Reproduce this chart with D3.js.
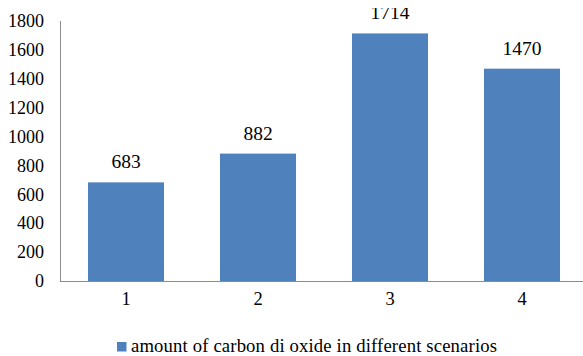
<!DOCTYPE html>
<html>
<head>
<meta charset="utf-8">
<script src="https://cdn.jsdelivr.net/npm/d3@7"></script>
<style>
  html, body { margin: 0; padding: 0; background: #fff; }
  svg { display: block; }
</style>
</head>
<body>
<svg id="chart" width="583" height="356"></svg>
<script>
// Scenario numbers and CO2 amounts
const categories = ["1", "2", "3", "4"];
const values = [683, 882, 1714, 1470];
const yTicks = [0, 200, 400, 600, 800, 1000, 1200, 1400, 1600, 1800];
const seriesName = "amount of carbon di oxide in different scenarios";

const width = 583, height = 356;
const margin = { left: 60, top: 21, bottom: 75 };
const plotRight = 588;
const baseline = height - margin.bottom; // 281
const serif = '"Liberation Serif"';

const svg = d3.select("#chart");
const barColor = "#4f81bd";

// Canvas edge: labels are trimmed along the top of the frame
svg.append("defs").append("clipPath").attr("id", "frame")
  .append("rect").attr("x", 0).attr("y", 8).attr("width", width).attr("height", height - 8);

const x = d3.scaleBand()
  .domain(categories)
  .range([margin.left, plotRight])
  .paddingInner(0.424)
  .paddingOuter(0.212);

const y = d3.scaleLinear()
  .domain([0, 1800])
  .range([baseline, margin.top]);

// Y axis labels (no tick marks)
const yAxis = d3.axisLeft(y).tickValues(yTicks).tickSize(0).tickPadding(16).tickFormat(d3.format("d"));
const gy = svg.append("g").attr("transform", `translate(${margin.left},0)`).call(yAxis);
gy.select(".domain").remove();
gy.attr("font-family", null).attr("font-size", null);
gy.selectAll("text")
  .style("font-family", serif).style("font-size", "18px").attr("fill", "#000");

// Bars
svg.append("g").selectAll("rect")
  .data(values)
  .join("rect")
  .attr("x", (d, i) => x(categories[i]))
  .attr("y", d => y(d))
  .attr("width", x.bandwidth())
  .attr("height", d => baseline - y(d))
  .attr("fill", barColor);

// Value labels
svg.append("g").attr("clip-path", "url(#frame)").selectAll("text")
  .data(values)
  .join("text")
  .attr("x", (d, i) => x(categories[i]) + x.bandwidth() / 2)
  .attr("y", d => y(d) - 14)
  .attr("text-anchor", "middle")
  .style("font-family", serif)
  .style("font-size", "19.5px")
  .attr("fill", "#000")
  .text(d => d);

// Axis lines
svg.append("line")
  .attr("x1", margin.left + 0.5).attr("x2", margin.left + 0.5)
  .attr("y1", margin.top).attr("y2", baseline)
  .attr("stroke", "#8c8c8c").attr("stroke-width", 1);
svg.append("line")
  .attr("x1", margin.left).attr("x2", width)
  .attr("y1", baseline + 0.5).attr("y2", baseline + 0.5)
  .attr("stroke", "#8c8c8c").attr("stroke-width", 1);

// X axis labels
const xAxis = d3.axisBottom(x).tickSize(0).tickPadding(11);
const gx = svg.append("g").attr("transform", `translate(0,${baseline})`).call(xAxis);
gx.select(".domain").remove();
gx.attr("font-family", null).attr("font-size", null);
gx.selectAll("text")
  .style("font-family", serif).style("font-size", "18.5px").attr("fill", "#000");

// Legend
const legend = svg.append("g").attr("transform", "translate(117,342)");
legend.append("rect").attr("width", 9.5).attr("height", 9.5).attr("fill", barColor);
legend.append("text")
  .attr("x", 14).attr("y", 9.5)
  .attr("textLength", 366)
  .attr("lengthAdjust", "spacing")
  .style("font-family", serif)
  .style("font-size", "18.7px")
  .attr("fill", "#000")
  .text(seriesName);
</script>
</body>
</html>
